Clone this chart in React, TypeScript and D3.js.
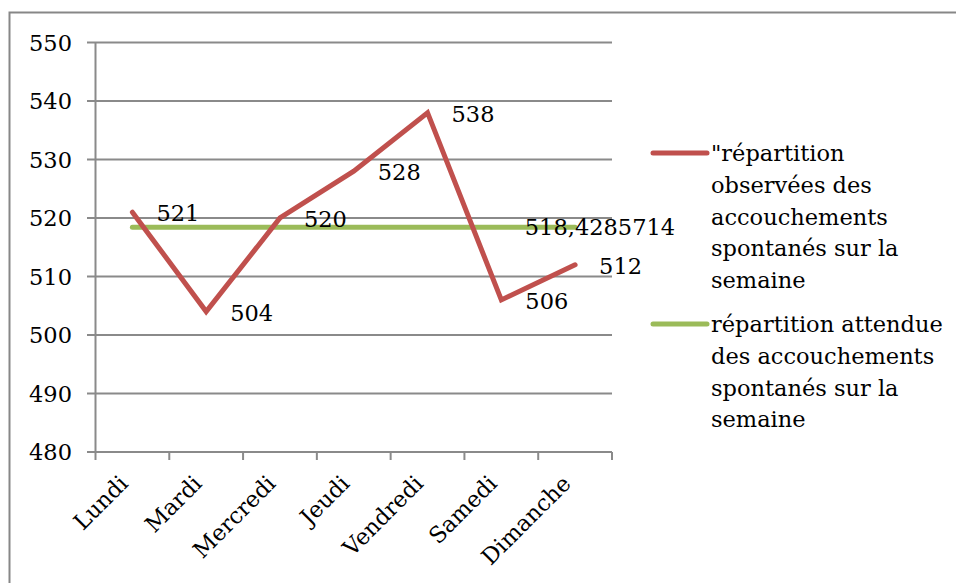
import React from 'react';
import * as d3 from 'd3';

// jours de la semaine
const days = ['Lundi', 'Mardi', 'Mercredi', 'Jeudi', 'Vendredi', 'Samedi', 'Dimanche'];
// répartition observée
const observed = [521, 504, 520, 528, 538, 506, 512];
// répartition attendue (moyenne)
const expected = [518.4285714, 518.4285714, 518.4285714, 518.4285714, 518.4285714, 518.4285714, 518.4285714];
const yTicks = [480, 490, 500, 510, 520, 530, 540, 550];

const legendRed = ['"répartition', 'observées des', 'accouchements', 'spontanés sur la', 'semaine'];
const legendGreen = ['répartition attendue', 'des accouchements', 'spontanés sur la', 'semaine'];

const RED = '#C0504D';
const GREEN = '#9BBB59';
const GRID = '#8a8a8a';
const FONT = '"DejaVu Serif", serif';

function App() {
  const W = 956, H = 583;
  const left = 95.5, right = 612, top = 42.5, bottom = 452;

  const x = d3.scaleBand().domain(days).range([left, right]);
  const y = d3.scaleLinear().domain([480, 550]).range([bottom, top]);
  const cx = (d: string) => (x(d) as number) + x.bandwidth() / 2;

  const line = d3.line<number>()
    .x((_, i) => cx(days[i]))
    .y(v => y(v));

  const boundaries = [...days.map(d => x(d) as number), right];

  const lineH = 31.7;

  return (
    <svg width={W} height={H} style={{ position: 'absolute', left: 0, top: 0 }}
      fontFamily={FONT}>
      <rect x={0} y={0} width={W} height={H} fill="#fff" />
      {/* cadre du graphique (coupé à droite et en bas) */}
      <rect x={9.5} y={12.5} width={W + 20} height={H + 20} fill="none" stroke="#878787" strokeWidth={2} />

      {/* grille + axe y */}
      {yTicks.map(t => (
        <g key={t}>
          <line x1={87} x2={right} y1={y(t)} y2={y(t)} stroke={GRID} strokeWidth={2} />
          <text x={72} y={y(t)} dy="0.36em" textAnchor="end" fontSize={22.5} fill="#000">{t}</text>
        </g>
      ))}
      <line x1={left} x2={left} y1={top} y2={bottom} stroke={GRID} strokeWidth={2} />

      {/* axe x */}
      {boundaries.map((b, i) => (
        <line key={i} x1={b} x2={b} y1={bottom} y2={bottom + 8} stroke={GRID} strokeWidth={2} />
      ))}
      {days.map(d => (
        <text key={d} transform={`translate(${cx(d) - 3},${bottom + 33}) rotate(-45)`}
          textAnchor="end" fontSize={22.5} fill="#000">{d}</text>
      ))}

      {/* séries */}
      <path d={line(expected) as string} fill="none" stroke={GREEN} strokeWidth={5} strokeLinecap="round" />
      <path d={line(observed) as string} fill="none" stroke={RED} strokeWidth={5} strokeLinecap="round" strokeLinejoin="miter" />

      {/* étiquettes de données */}
      {observed.map((v, i) => (
        <text key={i} x={cx(days[i]) + 24} y={y(v) + 1} dy="0.36em" fontSize={22.5} fill="#000">{v}</text>
      ))}
      <text x={cx(days[6]) + 100} y={y(expected[6])} dy="0.36em" textAnchor="end" fontSize={22.5} fill="#000">
        {String(expected[6]).replace('.', ',')}
      </text>

      {/* légende */}
      <line x1={653} x2={707} y1={153} y2={153} stroke={RED} strokeWidth={5} strokeLinecap="round" />
      {legendRed.map((t, i) => (
        <text key={t} x={711} y={153 + i * lineH} dy="0.36em" fontSize={22.5} fill="#000">{t}</text>
      ))}
      <line x1={653} x2={707} y1={324} y2={324} stroke={GREEN} strokeWidth={5} strokeLinecap="round" />
      {legendGreen.map((t, i) => (
        <text key={t} x={711} y={324 + i * lineH} dy="0.36em" fontSize={22.5} fill="#000">{t}</text>
      ))}
    </svg>
  );
}

export default App;
